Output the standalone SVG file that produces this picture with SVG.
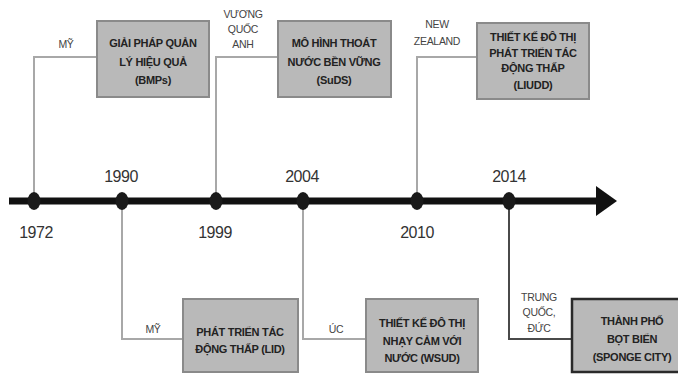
<svg xmlns="http://www.w3.org/2000/svg" width="678" height="374" viewBox="0 0 678 374">
<style>
.box{fill:#b9b9b9;stroke:#8a8a8a;stroke-width:2}
.box2{fill:#b9b9b9;stroke:#2a2a2a;stroke-width:2.5}
.bt{font-family:"Liberation Sans",Arial,sans-serif;font-weight:bold;font-size:11px;fill:#222;text-anchor:middle;letter-spacing:-0.3px}
.lab{font-family:"Liberation Sans",Arial,sans-serif;font-size:10.5px;fill:#444;text-anchor:middle;letter-spacing:-0.3px}
.yr{font-family:"Liberation Sans",Arial,sans-serif;font-size:16px;fill:#333;text-anchor:middle;letter-spacing:-0.5px}
.con{fill:none;stroke:#a8a8a8;stroke-width:2}
.con2{fill:none;stroke:#4a4a4a;stroke-width:2}
</style>
<rect width="678" height="374" fill="#fff"/>
<g id="connectors">
<polyline class="con" points="34,201 34,57 97,57"/>
<polyline class="con" points="216,201 216,57 278,57"/>
<polyline class="con" points="417,201 417,57 477,57"/>
<polyline class="con" points="122,201 122,339 183,339"/>
<polyline class="con" points="303,201 303,339 366,339"/>
<polyline class="con2" points="509,201 509,339 572,339"/>
</g>
<g id="timeline">
<line x1="9" y1="201" x2="600" y2="201" stroke="#111" stroke-width="7"/>
<polygon points="596,186 617,201 596,216" fill="#111"/>
<ellipse cx="34" cy="201" rx="6.5" ry="9" fill="#1a1a1a"/>
<ellipse cx="122" cy="201" rx="6.5" ry="9" fill="#1a1a1a"/>
<ellipse cx="216" cy="201" rx="6.5" ry="9" fill="#1a1a1a"/>
<ellipse cx="303" cy="201" rx="6.5" ry="9" fill="#1a1a1a"/>
<ellipse cx="417" cy="201" rx="6.5" ry="9" fill="#1a1a1a"/>
<ellipse cx="509" cy="201" rx="6.5" ry="9" fill="#1a1a1a"/>
<text class="yr" x="36" y="238">1972</text>
<text class="yr" x="121" y="182">1990</text>
<text class="yr" x="215" y="238">1999</text>
<text class="yr" x="302" y="182">2004</text>
<text class="yr" x="417" y="238">2010</text>
<text class="yr" x="509" y="182">2014</text>
</g>
<g id="node-bmps">
<rect class="box" x="97" y="21" width="112" height="76"/>
<text class="bt" x="153" y="47">GIẢI PHÁP QUẢN</text>
<text class="bt" x="153" y="66">LÝ HIỆU QUẢ</text>
<text class="bt" x="153" y="84">(BMPs)</text>
<text class="lab" x="66" y="48">MỸ</text>
</g>
<g id="node-suds">
<rect class="box" x="278" y="21" width="113" height="76"/>
<text class="bt" x="334" y="47">MÔ HÌNH THOÁT</text>
<text class="bt" x="334" y="66">NƯỚC BỀN VỮNG</text>
<text class="bt" x="334" y="84">(SuDS)</text>
<text class="lab" x="243" y="18">VƯƠNG</text>
<text class="lab" x="243" y="33">QUỐC</text>
<text class="lab" x="243" y="48">ANH</text>
</g>
<g id="node-liudd">
<rect class="box" x="477" y="23" width="112" height="76"/>
<text class="bt" x="533" y="41">THIẾT KẾ ĐÔ THỊ</text>
<text class="bt" x="533" y="57">PHÁT TRIỂN TÁC</text>
<text class="bt" x="533" y="72">ĐỘNG THẤP</text>
<text class="bt" x="533" y="89">(LIUDD)</text>
<text class="lab" x="437" y="28">NEW</text>
<text class="lab" x="437" y="45">ZEALAND</text>
</g>
<g id="node-lid">
<rect class="box" x="183" y="299" width="115" height="73"/>
<text class="bt" x="240" y="336">PHÁT TRIỂN TÁC</text>
<text class="bt" x="240" y="353">ĐỘNG THẤP (LID)</text>
<text class="lab" x="153" y="333">MỸ</text>
</g>
<g id="node-wsud">
<rect class="box" x="366" y="299" width="112" height="73"/>
<text class="bt" x="422" y="327">THIẾT KẾ ĐÔ THỊ</text>
<text class="bt" x="422" y="345">NHẠY CẢM VỚI</text>
<text class="bt" x="422" y="362">NƯỚC (WSUD)</text>
<text class="lab" x="336" y="333">ÚC</text>
</g>
<g id="node-sponge">
<rect class="box2" x="572" y="299" width="108" height="73"/>
<text class="bt" x="632" y="325">THÀNH PHỐ</text>
<text class="bt" x="632" y="343">BỌT BIỂN</text>
<text class="bt" x="632" y="361">(SPONGE CITY)</text>
<text class="lab" x="539" y="301">TRUNG</text>
<text class="lab" x="539" y="316">QUỐC,</text>
<text class="lab" x="539" y="332">ĐỨC</text>
</g>
</svg>
